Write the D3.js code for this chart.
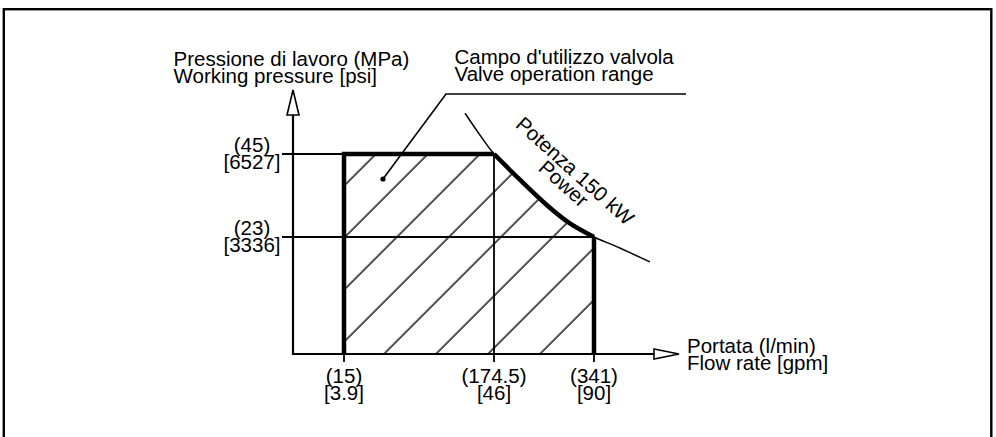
<!DOCTYPE html>
<html>
<head>
<meta charset="utf-8">
<script src="https://cdn.jsdelivr.net/npm/d3@7"></script>
<style>
    body { margin: 0; background: #fff; }
    svg text { font-family: "Liberation Sans", Arial, sans-serif; font-size: 20.5px; fill: #000; }
</style>
</head>
<body>
<div class="chart"></div>
<script>
// ticks on the flow axis: l/min and gpm
var flowTicks = [15, 174.5, 341];
var flowTicksGpm = ["3.9", "46", "90"];
// ticks on the pressure axis: MPa and psi
var pressureTicks = [45, 23];
var pressureTicksPsi = ["6527", "3336"];
// 150 kW power curve (l/min, MPa)
var powerFlow = [143.7, 159.6, 174.5, 206.6, 262.2, 300.9, 341, 378.8, 434.2];
var powerPressure = [55.8, 50, 45, 39.9, 31.5, 26.6, 23, 21.1, 18.1];

var W = 996, H = 437;

var svg = d3.select("div.chart")
    .append("svg")
    .attr("width", W)
    .attr("height", H);

// the drawing is not to scale, so the scales are piecewise
var x = d3.scaleLinear().domain([0, 15, 174.5, 341]).range([293, 344, 494, 594]);
var y = d3.scaleLinear().domain([0, 23, 45]).range([354, 237, 154]);

// frame
svg.append("rect")
    .attr("x", 3.8).attr("y", 9.2)
    .attr("width", 987.5).attr("height", 440)
    .attr("fill", "none")
    .attr("stroke", "#000")
    .attr("stroke-width", 2.4);

// hatch pattern
var defs = svg.append("defs");
var hatch = defs.append("pattern")
    .attr("id", "hatch")
    .attr("patternUnits", "userSpaceOnUse")
    .attr("width", 36.77)
    .attr("height", 36.77)
    .attr("patternTransform", "rotate(45)");
hatch.append("line")
    .attr("x1", 7.07).attr("y1", -1)
    .attr("x2", 7.07).attr("y2", 38)
    .attr("stroke", "#000")
    .attr("stroke-width", 1.4);

var power = powerFlow.map(function(d, i){ return [d, powerPressure[i]]; });
var inRange = power.filter(function(d){ return d[0] >= 174.5 && d[0] <= 341; });

var line = d3.line()
    .x(function(d){ return x(d[0]); })
    .y(function(d){ return y(d[1]); });
var curve = d3.line()
    .x(function(d){ return x(d[0]); })
    .y(function(d){ return y(d[1]); })
    .curve(d3.curveCatmullRom.alpha(0.5));

// hatched operating range: straight sides plus the curve
var rangePath = line([[341, 0], [15, 0], [15, 45]]) + "L" + curve(inRange).slice(1) + "Z";
svg.append("path")
    .attr("d", rangePath)
    .attr("fill", "url(#hatch)")
    .attr("stroke", "none");

// thin reference lines
var g = svg.append("g")
    .attr("stroke", "#000")
    .attr("fill", "none");

g.selectAll("line.hgrid")
    .data(pressureTicks)
    .enter()
    .append("line")
    .attr("class", "hgrid")
    .attr("x1", x(0) - 11)
    .attr("x2", function(d){ return d === 45 ? x(174.5) : x(341); })
    .attr("y1", function(d){ return y(d); })
    .attr("y2", function(d){ return y(d); })
    .attr("stroke-width", 1.8);

g.selectAll("line.vgrid")
    .data(flowTicks)
    .enter()
    .append("line")
    .attr("class", "vgrid")
    .attr("x1", function(d){ return x(d); })
    .attr("x2", function(d){ return x(d); })
    .attr("y1", y(0) + 8)
    .attr("y2", function(d){ return d === 174.5 ? y(45) : y(0); })
    .attr("stroke-width", 1.8);

// power curve
g.append("path")
    .attr("d", curve(power))
    .attr("stroke-width", 1.5);

// axes with open arrows
g.append("line")
    .attr("x1", x(0)).attr("y1", y(0))
    .attr("x2", 654).attr("y2", y(0))
    .attr("stroke-width", 2.2);
g.append("line")
    .attr("x1", x(0)).attr("y1", y(0) + 1)
    .attr("x2", x(0)).attr("y2", 115)
    .attr("stroke-width", 2.2);
g.append("path")
    .attr("d", "M654," + (y(0) - 5) + "L679," + y(0) + "L654," + (y(0) + 5) + "Z")
    .attr("fill", "#fff")
    .attr("stroke-width", 1.6);
g.append("path")
    .attr("d", "M" + (x(0) - 6) + ",115L" + x(0) + ",90L" + (x(0) + 6) + ",115Z")
    .attr("fill", "#fff")
    .attr("stroke-width", 1.6);

// thick boundary of the range
g.append("path")
    .attr("d", line([[15, 0], [15, 45], [174.5, 45]]))
    .attr("stroke-width", 4.5)
    .attr("stroke-linejoin", "miter");
g.append("path")
    .attr("d", curve(inRange))
    .attr("stroke-width", 4.5);
g.append("path")
    .attr("d", line([[341, 23], [341, 0]]))
    .attr("stroke-width", 4.5);

// leader line
g.append("polyline")
    .attr("points", "383,179 446,94 686,94")
    .attr("stroke-width", 1.6);
svg.append("circle")
    .attr("cx", 383).attr("cy", 179)
    .attr("r", 2.6)
    .attr("fill", "#000");

// tick labels
var ylab = svg.selectAll("g.ylab")
    .data(pressureTicks)
    .enter()
    .append("g")
    .attr("class", "ylab")
    .attr("transform", function(d){ return "translate(252," + y(d) + ")"; });
ylab.append("text")
    .attr("text-anchor", "middle")
    .attr("y", -2)
    .text(function(d){ return "(" + d + ")"; });
ylab.append("text")
    .attr("text-anchor", "middle")
    .attr("y", 15)
    .text(function(d, i){ return "[" + pressureTicksPsi[i] + "]"; });

var xlab = svg.selectAll("g.xlab")
    .data(flowTicks)
    .enter()
    .append("g")
    .attr("class", "xlab")
    .attr("transform", function(d){ return "translate(" + x(d) + ",383)"; });
xlab.append("text")
    .attr("text-anchor", "middle")
    .text(function(d){ return "(" + d + ")"; });
xlab.append("text")
    .attr("text-anchor", "middle")
    .attr("y", 17)
    .text(function(d, i){ return "[" + flowTicksGpm[i] + "]"; });

// titles
function twoLines(px, py, a, b){
    var t = svg.append("text").attr("x", px).attr("y", py);
    t.append("tspan").attr("x", px).text(a);
    t.append("tspan").attr("x", px).attr("dy", 17).text(b);
}
twoLines(173.5, 66, "Pressione di lavoro (MPa)", "Working pressure [psi]");
twoLines(454.5, 64, "Campo d'utilizzo valvola", "Valve operation range");
twoLines(687, 353, "Portata (l/min)", "Flow rate [gpm]");

var rot = svg.append("text")
    .attr("text-anchor", "middle")
    .attr("transform", "translate(570.3,176.2) rotate(42)");
rot.append("tspan").attr("x", 0).text("Potenza 150 kW");
rot.append("tspan").attr("x", 0).attr("dy", 17).text("Power");
</script>
</body>
</html>
